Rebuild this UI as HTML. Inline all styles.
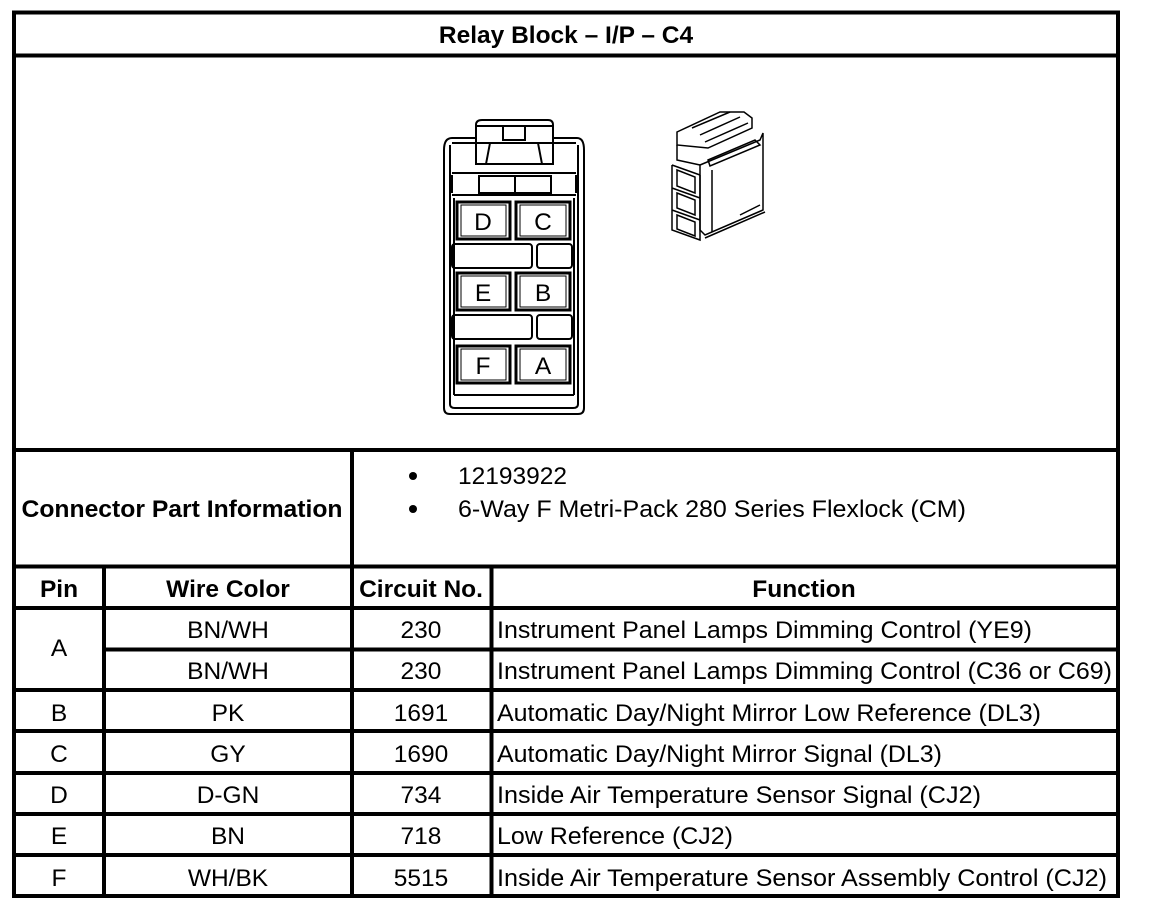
<!DOCTYPE html>
<html><head><meta charset="utf-8"><style>
html,body{margin:0;padding:0;background:#fff;width:1152px;height:918px;overflow:hidden}
svg{display:block}
text{font-family:"Liberation Sans",Arial,sans-serif;font-size:24.5px;fill:#000}
.b{font-weight:bold}
</style></head><body>
<svg width="1152" height="918" viewBox="0 0 1152 918" xmlns="http://www.w3.org/2000/svg">
<g stroke="#000" stroke-width="4" fill="none">
<rect x="14" y="12.5" width="1104" height="883.5"/>
<line x1="14" y1="55.5" x2="1118" y2="55.5"/>
<line x1="14" y1="450" x2="1118" y2="450"/>
<line x1="14" y1="566.5" x2="1118" y2="566.5"/>
<line x1="352" y1="450" x2="352" y2="896"/>
<line x1="14" y1="608" x2="1118" y2="608"/>
<line x1="104" y1="649.5" x2="1118" y2="649.5"/>
<line x1="14" y1="690" x2="1118" y2="690"/>
<line x1="14" y1="731" x2="1118" y2="731"/>
<line x1="14" y1="773" x2="1118" y2="773"/>
<line x1="14" y1="814" x2="1118" y2="814"/>
<line x1="14" y1="855" x2="1118" y2="855"/>
<line x1="104" y1="566" x2="104" y2="896"/>
<line x1="491.5" y1="566" x2="491.5" y2="896"/>
</g>
<text class="b" x="566" y="43" text-anchor="middle">Relay Block – I/P – C4</text>
<text class="b" x="182" y="517" text-anchor="middle" textLength="321" lengthAdjust="spacingAndGlyphs">Connector Part Information</text>
<circle cx="413" cy="476" r="4"/><circle cx="413" cy="509" r="4"/>
<text x="458" y="484">12193922</text>
<text x="458" y="517" textLength="508" lengthAdjust="spacingAndGlyphs">6-Way F Metri-Pack 280 Series Flexlock (CM)</text>
<text class="b" x="59" y="597" text-anchor="middle">Pin</text>
<text class="b" x="228" y="597" text-anchor="middle">Wire Color</text>
<text class="b" x="421" y="597" text-anchor="middle">Circuit No.</text>
<text class="b" x="804" y="597" text-anchor="middle">Function</text>
<g text-anchor="middle">
<text x="59" y="656">A</text>
<text x="228" y="638">BN/WH</text><text x="421" y="638">230</text>
<text x="228" y="679">BN/WH</text><text x="421" y="679">230</text>
<text x="59" y="721">B</text><text x="228" y="721">PK</text><text x="421" y="721">1691</text>
<text x="59" y="762">C</text><text x="228" y="762">GY</text><text x="421" y="762">1690</text>
<text x="59" y="803">D</text><text x="228" y="803">D-GN</text><text x="421" y="803">734</text>
<text x="59" y="844">E</text><text x="228" y="844">BN</text><text x="421" y="844">718</text>
<text x="59" y="886">F</text><text x="228" y="886">WH/BK</text><text x="421" y="886">5515</text>
</g>
<text x="497" y="638" textLength="535" lengthAdjust="spacingAndGlyphs">Instrument Panel Lamps Dimming Control (YE9)</text>
<text x="497" y="679" textLength="615" lengthAdjust="spacingAndGlyphs">Instrument Panel Lamps Dimming Control (C36 or C69)</text>
<text x="497" y="721" textLength="544" lengthAdjust="spacingAndGlyphs">Automatic Day/Night Mirror Low Reference (DL3)</text>
<text x="497" y="762" textLength="445" lengthAdjust="spacingAndGlyphs">Automatic Day/Night Mirror Signal (DL3)</text>
<text x="497" y="803" textLength="484" lengthAdjust="spacingAndGlyphs">Inside Air Temperature Sensor Signal (CJ2)</text>
<text x="497" y="844" textLength="236" lengthAdjust="spacingAndGlyphs">Low Reference (CJ2)</text>
<text x="497" y="886" textLength="610" lengthAdjust="spacingAndGlyphs">Inside Air Temperature Sensor Assembly Control (CJ2)</text>

<!-- connector face -->
<g stroke="#000" stroke-width="2" fill="none">
<path d="M444 150 Q444 138 452 138 L476 138 L476 125 Q476 120 482 120 L548 120 Q553 120 553 125 L553 138 L577 138 Q584 138 584 150 L584 408 Q584 414 578 414 L450 414 Q444 414 444 408 Z"/>
<path d="M450 145 L450 404 Q450 408 455 408 L573 408 Q578 408 578 404 L578 145"/>
<line x1="452" y1="143" x2="576" y2="143"/>
<line x1="452" y1="173" x2="576" y2="173"/>
<rect x="476" y="126" width="77" height="38"/>
<line x1="490" y1="143" x2="486" y2="164"/><line x1="538" y1="143" x2="542" y2="164"/>
<rect x="503" y="126" width="22" height="14"/>
<line x1="452" y1="175" x2="452" y2="193"/><line x1="576" y1="175" x2="576" y2="193"/>
<rect x="479" y="176" width="72" height="17"/>
<line x1="515" y1="176" x2="515" y2="193"/>
<line x1="452" y1="195" x2="576" y2="195"/>
<line x1="454" y1="198" x2="454" y2="395"/><line x1="574" y1="198" x2="574" y2="395"/>
<line x1="454" y1="395" x2="574" y2="395"/>
<rect x="452" y="244" width="80" height="24" rx="3"/>
<rect x="537" y="244" width="35" height="24" rx="3"/>
<rect x="452" y="315" width="80" height="24" rx="3"/>
<rect x="537" y="315" width="35" height="24" rx="3"/>
</g>
<g stroke="#000" stroke-width="3" fill="none">
<rect x="457" y="202" width="53" height="37"/>
<rect x="516" y="202" width="54" height="37"/>
<rect x="457" y="273" width="53" height="37"/>
<rect x="516" y="273" width="54" height="37"/>
<rect x="457" y="346" width="53" height="37"/>
<rect x="516" y="346" width="54" height="37"/>
</g>
<g stroke="#000" stroke-width="1" fill="none">
<rect x="461" y="205" width="45" height="31"/><rect x="520" y="205" width="46" height="31"/>
<rect x="461" y="276" width="45" height="31"/><rect x="520" y="276" width="46" height="31"/>
<rect x="461" y="349" width="45" height="31"/><rect x="520" y="349" width="46" height="31"/>
</g>
<text x="483" y="230" text-anchor="middle">D</text>
<text x="543" y="230" text-anchor="middle">C</text>
<text x="483" y="301" text-anchor="middle">E</text>
<text x="543" y="301" text-anchor="middle">B</text>
<text x="483" y="374" text-anchor="middle">F</text>
<text x="543" y="374" text-anchor="middle">A</text>

<!-- 3D connector -->
<g stroke="#000" stroke-width="1.5" fill="none">
<path d="M677 132 L720 112 L744 112 L752 118 L752 128 L708 148 L677 145 Z"/>
<path d="M692 128 L730 112 M700 135 L740 117 M705 142 L748 123"/>
<path d="M677 145 L677 160 L700 165"/>
<path d="M700 165 L760 140 L763 133 L763 210 L705 235 L700 230 Z"/>
<path d="M708 160 L755 140 L760 145 L710 166 Z"/>
<path d="M672 165 L700 175 M672 165 L672 230 L700 240 L700 175 M672 188 L700 198 M672 210 L700 220"/>
<path d="M677 170 L695 177 L695 193 L677 186 Z"/>
<path d="M677 193 L695 200 L695 215 L677 208 Z"/>
<path d="M677 215 L695 222 L695 236 L677 229 Z"/>
<path d="M712 170 L712 232 M740 215 L760 205 M705 238 L765 212"/>
</g>
</svg>
</body></html>
